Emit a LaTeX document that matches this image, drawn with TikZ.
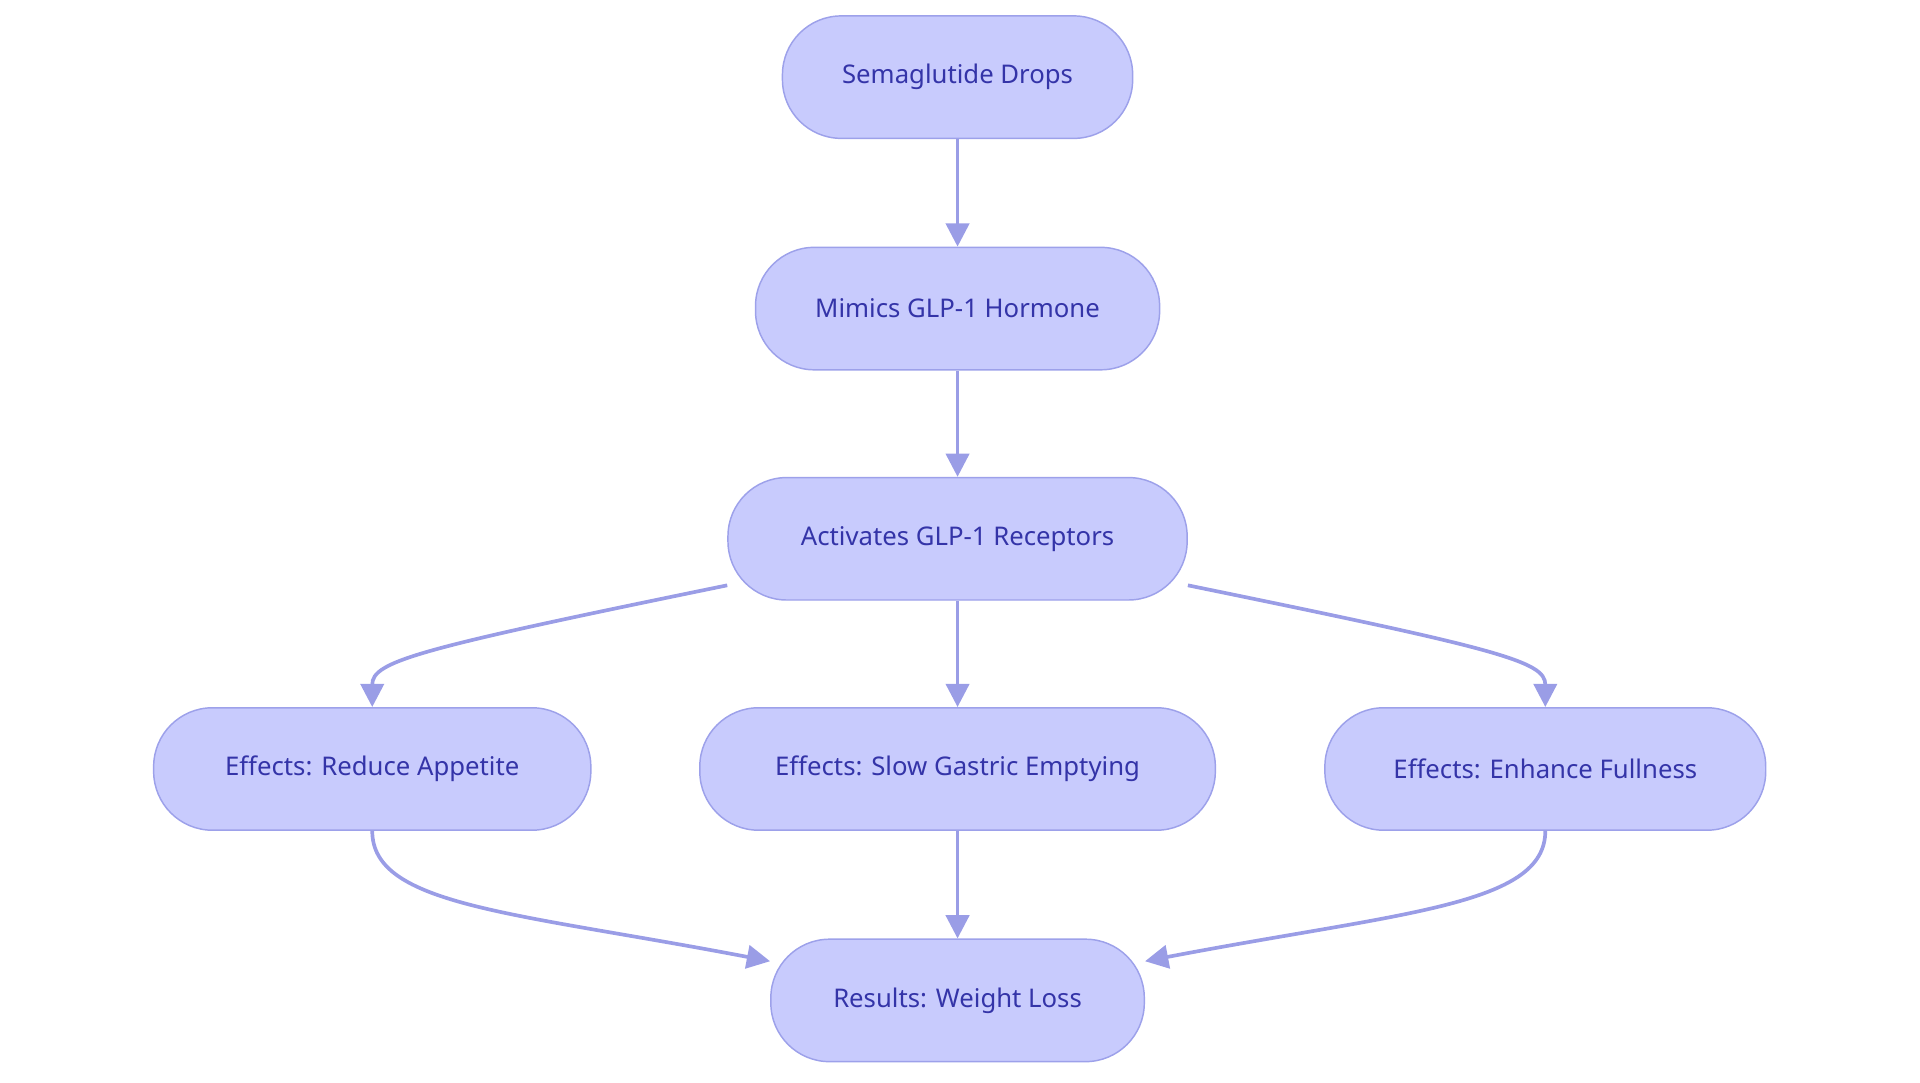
\documentclass[tikz,border=0pt]{standalone}
\usepackage{fontspec}
\setmainfont{Noto Sans}
\usetikzlibrary{arrows.meta}
\definecolor{boxfill}{HTML}{C8CBFD}
\definecolor{boxline}{HTML}{9DA1EA}
\definecolor{boxtext}{HTML}{3434A8}
\definecolor{edgecol}{HTML}{9A9DE6}
\begin{document}
\begin{tikzpicture}[x=1pt,y=-1pt,
  stage/.style={draw=boxline,fill=boxfill,line width=1.2pt,rounded corners=48pt,
    minimum height=100pt,inner sep=0pt,text=boxtext,font=\fontsize{21}{24}\selectfont},
  flow/.style={draw=edgecol,line width=3pt,-{Triangle[length=19pt,width=19pt]}}]
  % Canvas
  \useasboundingbox (0,0) rectangle (1568,884);

  % Stages
  \node[stage,minimum width=286pt] (drops) at (782,63)  {Semaglutide Drops};
  \node[stage,minimum width=330pt] (mimic) at (782,252) {Mimics GLP-1 Hormone};
  \node[stage,minimum width=375pt] (recep) at (782,440) {Activates GLP-1 Receptors};
  \node[stage,minimum width=357pt] (appet) at (304,628) {Effects: Reduce Appetite};
  \node[stage,minimum width=421pt] (gastr) at (782,628) {Effects: Slow Gastric Emptying};
  \node[stage,minimum width=360pt] (fulln) at (1262,628) {Effects: Enhance Fullness};
  \node[stage,minimum width=305pt] (loss)  at (782,817) {Results: Weight Loss};

  % Straight links
  \draw[flow] (drops) -- (mimic);
  \draw[flow] (mimic) -- (recep);
  \draw[flow] (recep) -- (gastr);
  \draw[flow] (gastr) -- (loss);

  % Curved links
  \draw[flow] ([yshift=-38pt]recep.west) .. controls (340,530) and (304,540) .. (appet.north);
  \draw[flow] ([yshift=-38pt]recep.east) .. controls (1224,530) and (1262,540) .. (fulln.north);
  \draw[flow] (appet.south) .. controls (304,740) and (420,745) .. ([yshift=32pt]loss.west);
  \draw[flow] (fulln.south) .. controls (1262,740) and (1144,745) .. ([yshift=32pt]loss.east);
\end{tikzpicture}
\end{document}
